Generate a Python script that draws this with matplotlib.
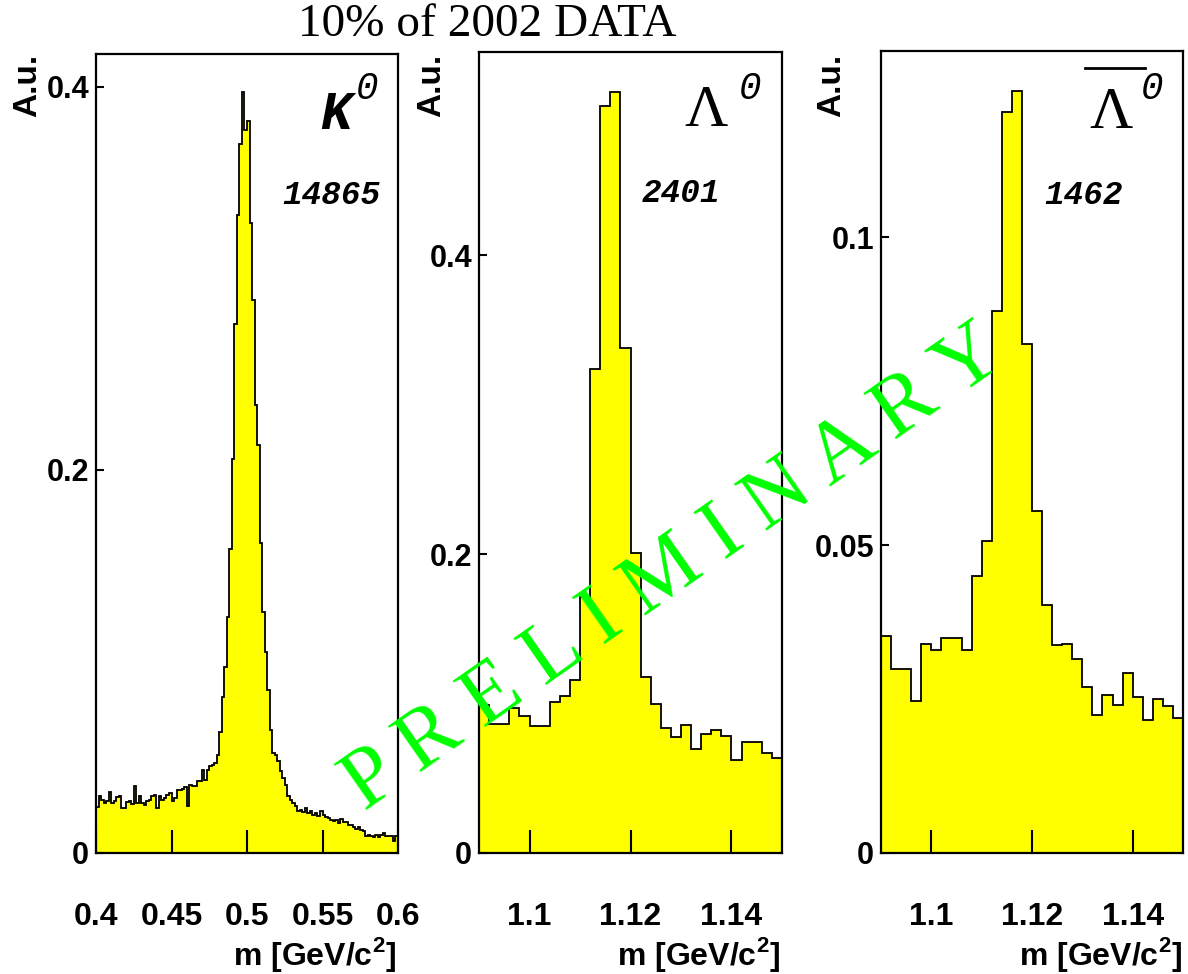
import numpy as np
import matplotlib
matplotlib.use('Agg')
import matplotlib.pyplot as plt

plt.rcParams['font.family'] = ['Liberation Sans', 'DejaVu Sans']
plt.rcParams['font.weight'] = 'bold'
plt.rcParams['mathtext.fontset'] = 'custom'
plt.rcParams['mathtext.rm'] = 'Liberation Sans:bold'
plt.rcParams['mathtext.bf'] = 'Liberation Sans:bold'

# K0 mass histogram, 120 bins in 0.4-0.6
k0_edges = np.linspace(0.4, 0.6, 121)
k0_vals = [0.024, 0.0299, 0.0278, 0.0261, 0.0273, 0.0317, 0.0261, 0.0270, 0.0292, 0.0299,
           0.0235, 0.0235, 0.0264, 0.0270, 0.0257, 0.0348, 0.0261, 0.0296, 0.0261, 0.0252,
           0.0270, 0.0278, 0.0296, 0.0305, 0.0235, 0.0296, 0.0278, 0.0287, 0.0305, 0.0313,
           0.0273, 0.0287, 0.0331, 0.0331, 0.0334, 0.0343, 0.0244, 0.0357, 0.0348, 0.0348,
           0.0374, 0.0374, 0.0435, 0.0379, 0.0435, 0.0456, 0.0461, 0.0470,
           0.0512, 0.0633, 0.0816, 0.0973, 0.123, 0.1586, 0.2056, 0.276, 0.333, 0.370,
           0.397, 0.3775, 0.382, 0.3288, 0.2884, 0.2336, 0.2127, 0.1617, 0.126, 0.1051,
           0.0851, 0.0642, 0.0522,
           0.0513, 0.0478, 0.0426, 0.0392, 0.0357, 0.0296, 0.0278, 0.0261, 0.0244, 0.0218,
           0.0226, 0.0212, 0.0235, 0.0209, 0.0218, 0.0200, 0.0209, 0.0191, 0.0218, 0.0200,
           0.0188, 0.0183, 0.0174, 0.0165, 0.0174, 0.0157, 0.0177, 0.0160, 0.0160, 0.0148,
           0.0148, 0.0136, 0.0125, 0.0136, 0.0118, 0.0113, 0.0087, 0.0096, 0.0087, 0.0083,
           0.0096, 0.0083, 0.0096, 0.0104, 0.0087, 0.0087, 0.0090, 0.0061, 0.0087]

# Lambda histograms, 30 bins in 1.09-1.15
lam_edges = np.linspace(1.09, 1.15, 31)
lam_vals = [0.099, 0.086, 0.086, 0.097, 0.0918, 0.0853, 0.0853, 0.101, 0.1048, 0.1157,
            0.171, 0.324, 0.500, 0.509, 0.338, 0.201, 0.1175, 0.100, 0.0834, 0.0778,
            0.0856, 0.0693, 0.0796, 0.0823, 0.0783, 0.0622, 0.074, 0.0745, 0.0667, 0.0633]
alam_vals = [0.0353, 0.0298, 0.0298, 0.0247, 0.0339, 0.033, 0.0349, 0.0349, 0.033, 0.0449,
             0.0506, 0.088, 0.1203, 0.1237, 0.0827, 0.0556, 0.0403, 0.0338, 0.034, 0.0315,
             0.027, 0.0224, 0.0257, 0.0241, 0.0292, 0.0254, 0.0216, 0.025, 0.0238, 0.0219]

k0_xticks = [0.4, 0.45, 0.5, 0.55, 0.6]
k0_xlabels = ['0.4', '0.45', '0.5', '0.55', '0.6']
lam_xticks = [1.1, 1.12, 1.14]
lam_xlabels = ['1.1', '1.12', '1.14']
k0_yticks = [0, 0.2, 0.4]
k0_ylabels = ['0', '0.2', '0.4']
alam_yticks = [0, 0.05, 0.1]
alam_ylabels = ['0', '0.05', '0.1']
counts = ['14865', '2401', '1462']

W, H = 1188, 974
fig = plt.figure(figsize=(W / 100, H / 100), dpi=100)

def fx(px):
    return px / W

def fy(py):
    return 1 - py / H

def make_ax(x0, x1, y0, y1):
    return fig.add_axes([fx(x0), fy(y1), fx(x1) - fx(x0), fy(y0) - fy(y1)])

ax1 = make_ax(96, 398, 54, 853)
ax2 = make_ax(479, 782, 52, 853)
ax3 = make_ax(881, 1183, 51, 853)

panels = [
    (ax1, k0_edges, k0_vals, (0.4, 0.6), (0, 0.417), k0_xticks, k0_xlabels, k0_yticks, k0_ylabels),
    (ax2, lam_edges, lam_vals, (1.09, 1.15), (0, 0.536), lam_xticks, lam_xlabels, k0_yticks, k0_ylabels),
    (ax3, lam_edges, alam_vals, (1.09, 1.15), (0, 0.1302), lam_xticks, lam_xlabels, alam_yticks, alam_ylabels),
]

for ax, edges, vals, xl, yl, xt, xtl, yt, ytl in panels:
    ax.stairs(vals, edges, fill=True, facecolor='#ffff00', linewidth=0)
    ax.stairs(vals, edges, baseline=None, color='black', linewidth=1.3)
    ax.set_xlim(*xl)
    ax.set_ylim(*yl)
    ax.set_xticks(xt)
    ax.set_xticklabels(xtl)
    ax.set_yticks(yt)
    ax.set_yticklabels(ytl)
    ax.tick_params(axis='x', direction='in', length=16.5, width=1.5, pad=35, labelsize=23)
    ax.tick_params(axis='y', direction='in', length=6, width=1.5, pad=5, labelsize=22)
    for s in ax.spines.values():
        s.set_linewidth(1.6)

# title
fig.text(fx(487), fy(25), '10% of 2002 DATA', family='Liberation Serif', weight='normal',
         fontsize=34, ha='center', va='center')

# y axis labels
for xp in [28, 432, 832]:
    fig.text(fx(xp), fy(54), 'A.u.', rotation=90, ha='center', va='top', fontsize=24)

# x axis labels
for xr in [396, 780, 1182]:
    fig.text(fx(xr), fy(955), r'm [GeV/c$^{2}$]', ha='right', va='center', fontsize=23)

# particle labels
fig.text(fx(336), fy(115), 'K', family='Liberation Mono', style='italic', weight='bold',
         fontsize=38, ha='center', va='center')
fig.text(fx(367), fy(89), '0', family='Liberation Mono', style='italic', weight='normal',
         fontsize=27, ha='center', va='center')
fig.text(fx(706), fy(112), 'Λ', family='Liberation Serif', weight='normal',
         fontsize=43, ha='center', va='center')
fig.text(fx(750), fy(89), '0', family='Liberation Mono', style='italic', weight='normal',
         fontsize=27, ha='center', va='center')
fig.text(fx(1111), fy(114), 'Λ', family='Liberation Serif', weight='normal',
         fontsize=43, ha='center', va='center')
fig.text(fx(1152), fy(89), '0', family='Liberation Mono', style='italic', weight='normal',
         fontsize=27, ha='center', va='center')
fig.add_artist(plt.Line2D([fx(1085), fx(1145)], [fy(68), fy(68)], color='black', linewidth=2))

for (xc, yc), c in zip([(331, 196), (681, 194), (1084, 196)], counts):
    fig.text(fx(xc), fy(yc), c, family='Liberation Mono', style='italic', weight='bold',
             fontsize=23.5, ha='center', va='center')

# watermark
fig.text(fx(674), fy(570), 'P R E L I M I N A R Y', family='Liberation Serif', weight='normal',
         color='#00ff00', fontsize=62, rotation=35, rotation_mode='anchor',
         ha='center', va='center')

fig.savefig('out.png', dpi=100)
